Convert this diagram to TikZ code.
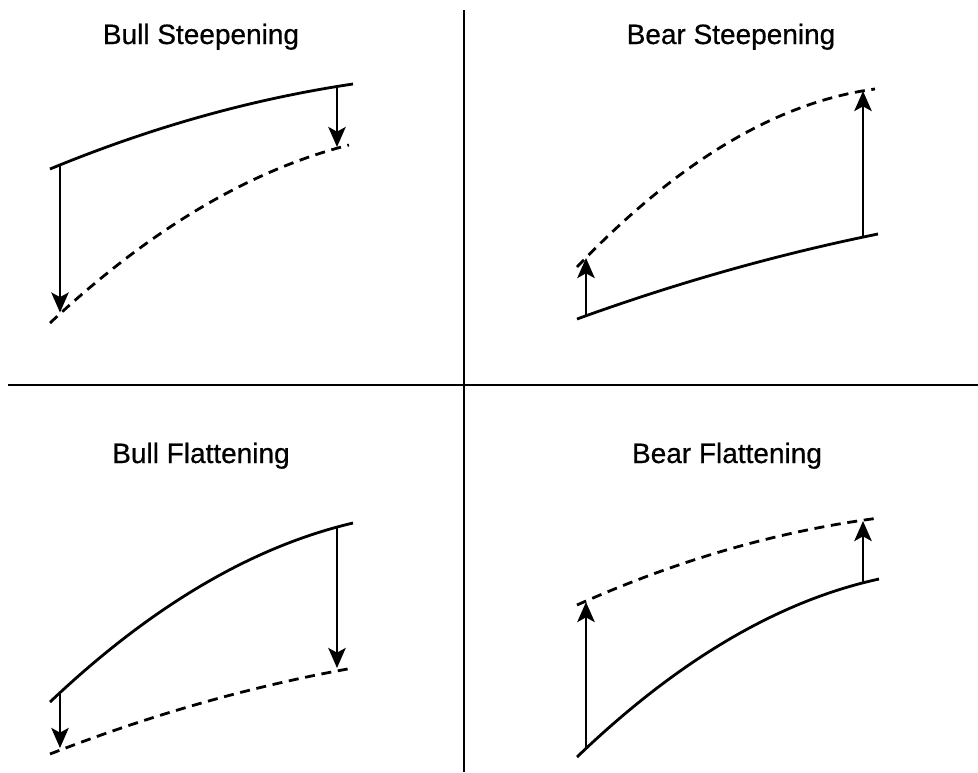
\documentclass[tikz,border=0pt]{standalone}
\usepackage{fontspec}
\setmainfont{Liberation Sans}
\newfontfamily\titlefont{Liberation Sans}[FakeBold=0.6]
\usetikzlibrary{arrows.meta}
\begin{document}
\begin{tikzpicture}[x=0.75pt,y=-0.75pt,
  title/.style={anchor=base,font=\titlefont\fontsize{21pt}{25pt}\selectfont,inner sep=0pt},
  curve/.style={line width=2.1pt},
  shifted/.style={line width=2.1pt,dash pattern=on 7.5pt off 5pt},
  move/.style={line width=2.2pt,-{Stealth[length=15pt,width=13pt,inset=3.5pt,fill=black]}},
  divider/.style={line width=1.2pt}]
\useasboundingbox (0,0) rectangle (978,772);
% dividers
\coordinate (vt) at (464,10);
\coordinate (vb) at (464,772);
\coordinate (hl) at (8,385);
\coordinate (hr) at (978,385);
\draw[divider] (vt) -- (vb);
\draw[divider] (hl) -- (hr);
% titles
\node[title] (t1) at (201,44) {Bull Steepening};
\node[title] (t2) at (731,44) {Bear Steepening};
\node[title] (t3) at (201,463) {Bull Flattening};
\node[title] (t4) at (727,463) {Bear Flattening};
% Q1 Bull Steepening
\draw[curve] (50,169) .. controls (151,127.3) and (252,99) .. (353,84);
\draw[shifted] (50,323) .. controls (149.7,229.7) and (249.3,170.3) .. (349,145);
\coordinate (a1s) at (60,165.5);
\coordinate (a1e) at (60,312.5);
\coordinate (b1s) at (337,86.5);
\coordinate (b1e) at (337,147);
\draw[move] (a1s) -- (a1e);
\draw[move] (b1s) -- (b1e);
% Q2 Bear Steepening
\draw[shifted] (577,267) .. controls (676.3,163) and (775.7,102.3) .. (875,89);
\draw[curve] (577,319) .. controls (677.3,282.7) and (777.7,254.3) .. (878,234);
\coordinate (a2s) at (586,316);
\coordinate (a2e) at (586,258);
\coordinate (b2s) at (863,237);
\coordinate (b2e) at (863,91);
\draw[move] (a2s) -- (a2e);
\draw[move] (b2s) -- (b2e);
% Q3 Bull Flattening
\draw[curve] (50,702) .. controls (151,606.3) and (252,546.7) .. (353,523);
\draw[shifted] (50,754) .. controls (151,714.7) and (252,686) .. (353,668);
\coordinate (a3s) at (60,692.5);
\coordinate (a3e) at (60,748);
\coordinate (b3s) at (337,527);
\coordinate (b3e) at (337,668);
\draw[move] (a3s) -- (a3e);
\draw[move] (b3s) -- (b3e);
% Q4 Bear Flattening
\draw[shifted] (577,605) .. controls (677.7,560) and (778.3,531) .. (879,518);
\draw[curve] (577,757) .. controls (677.7,660.3) and (778.3,601) .. (879,579);
\coordinate (a4s) at (586,748.5);
\coordinate (a4e) at (586,602);
\coordinate (b4s) at (863,582.5);
\coordinate (b4e) at (863,521);
\draw[move] (a4s) -- (a4e);
\draw[move] (b4s) -- (b4e);
\end{tikzpicture}
\end{document}
